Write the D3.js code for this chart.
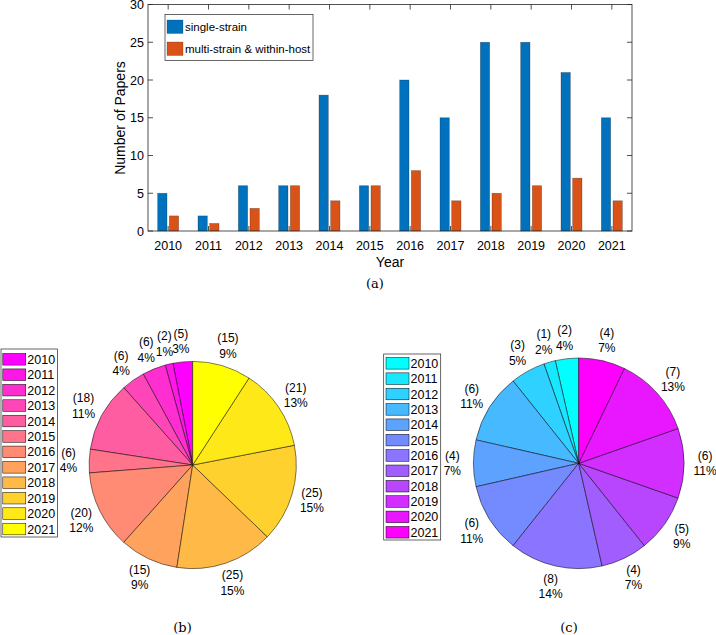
<!DOCTYPE html>
<html><head><meta charset="utf-8">
<script src="https://cdn.jsdelivr.net/npm/d3@7"></script>
<style>body{margin:0;background:#fff}svg{display:block}text{font-family:"Liberation Sans",Arial,sans-serif;fill:#000}</style>
</head><body>
<svg id="c" width="716" height="635"></svg>
<script>
const years = ["2010","2011","2012","2013","2014","2015","2016","2017","2018","2019","2020","2021"];
const singleStrain = [5,2,6,6,18,6,20,15,25,25,21,15];
const multiStrain = [2,1,3,6,4,6,8,4,5,6,7,4];
const seriesNames = ["single-strain","multi-strain & within-host"];
const seriesColors = ["#0072BD","#D95319"];
const yTicks = [0,5,10,15,20,25,30];

const svg = d3.select("#c");

// ---- Bar chart (a)
const L=148, R=632, T=4.5, B=231;
const x = d3.scaleBand().domain(years).range([L,R]).padding(0);
const x1 = d3.scaleBand().domain([0,1]).range([-10.5,10.5]).paddingInner(0.2);
const y = d3.scaleLinear().domain([0,30]).range([B,T]);
const g = svg.append("g");
const series = [singleStrain, multiStrain];
series.forEach((vals,si)=>{
  g.selectAll(null).data(vals).enter().append("rect")
    .attr("x",(d,i)=>x(years[i])+x.bandwidth()/2+x1(si))
    .attr("width",x1.bandwidth())
    .attr("y",d=>y(d)).attr("height",d=>B-y(d))
    .attr("fill",seriesColors[si]).attr("stroke","#222").attr("stroke-opacity",0.45).attr("stroke-width",0.6);
});
// frame
g.append("rect").attr("x",L).attr("y",T).attr("width",R-L).attr("height",B-T)
  .attr("fill","none").attr("stroke","#262626").attr("stroke-width",0.8);
// ticks
const tickLen=5;
years.forEach(yr=>{
  const cx=x(yr)+x.bandwidth()/2;
  g.append("line").attr("x1",cx).attr("x2",cx).attr("y1",B).attr("y2",B-tickLen).attr("stroke","#262626").attr("stroke-width",0.8);
  g.append("line").attr("x1",cx).attr("x2",cx).attr("y1",T).attr("y2",T+tickLen).attr("stroke","#262626").attr("stroke-width",0.8);
  g.append("text").attr("x",cx).attr("y",B+19).attr("text-anchor","middle").style("font-size","12.5px").text(yr);
});
yTicks.forEach(t=>{
  const cy=y(t);
  g.append("line").attr("x1",L).attr("x2",L+tickLen).attr("y1",cy).attr("y2",cy).attr("stroke","#262626").attr("stroke-width",0.8);
  g.append("line").attr("x1",R).attr("x2",R-tickLen).attr("y1",cy).attr("y2",cy).attr("stroke","#262626").attr("stroke-width",0.8);
  g.append("text").attr("x",L-4).attr("y",cy+4.5).attr("text-anchor","end").style("font-size","12.5px").text(t);
});
g.append("text").attr("x",(L+R)/2).attr("y",267).attr("text-anchor","middle").style("font-size","14px").text("Year");
g.append("text").attr("transform","translate(125,118) rotate(-90)").attr("text-anchor","middle").style("font-size","14px").text("Number of Papers");
svg.append("text").attr("x",375).attr("y",288).attr("text-anchor","middle").style("font-family","'DejaVu Serif','Liberation Serif',serif").style("font-size","13px").text("(a)");
// legend
g.append("rect").attr("x",165).attr("y",14.5).attr("width",148).attr("height",46).attr("fill","#fff").attr("stroke","#262626").attr("stroke-width",0.7);
seriesNames.forEach((n,i)=>{
  const yy = 20 + i*22;
  g.append("rect").attr("x",167).attr("y",yy).attr("width",16).attr("height",13.5).attr("fill",seriesColors[i]).attr("stroke","#222").attr("stroke-opacity",0.4).attr("stroke-width",0.6);
  g.append("text").attr("x",185).attr("y",yy+11).style("font-size","11.5px").text(n);
});

// ---- Pies
function springColor(i,n){const t=i/(n-1);return d3.rgb(255,Math.round(255*t),Math.round(255*(1-t))).toString();}
function coolColor(i,n){const t=i/(n-1);return d3.rgb(Math.round(255*t),Math.round(255*(1-t)),255).toString();}

function drawPie(vals, colorFn, cx, cy, r, lg, caption){
  const n=vals.length;
  const total=d3.sum(vals);
  const pie=d3.pie().sort(null).startAngle(0).endAngle(-2*Math.PI);
  const arcs=pie(vals);
  const arc=d3.arc().innerRadius(0).outerRadius(r);
  const pg=svg.append("g").attr("transform",`translate(${cx},${cy})`);
  pg.selectAll(null).data(arcs).enter().append("path")
    .attr("d",arc).attr("fill",(d,i)=>colorFn(i,n)).attr("stroke","#000").attr("stroke-width",0.5).attr("stroke-linejoin","round");
  arcs.forEach((a,i)=>{
    const mid=(a.startAngle+a.endAngle)/2;
    const lx=Math.sin(mid)*1.2*r, ly=-Math.cos(mid)*1.2*r;
    const pct=Math.round(vals[i]/total*100);
    const t=pg.append("text").attr("text-anchor","middle").style("font-size","12px");
    t.append("tspan").attr("x",lx).attr("y",ly-3.5).text(`(${vals[i]})`);
    t.append("tspan").attr("x",lx).attr("y",ly+12).text(`${pct}%`);
  });
  // legend
  const lgG=svg.append("g");
  lgG.append("rect").attr("x",lg.x).attr("y",lg.y).attr("width",lg.w).attr("height",lg.h).attr("fill","#fff").attr("stroke","#262626").attr("stroke-width",0.7);
  years.forEach((yr,i)=>{
    const yc=lg.y0+i*lg.dy;
    lgG.append("rect").attr("x",lg.sx).attr("y",yc-5.8).attr("width",23).attr("height",11.6).attr("fill",colorFn(i,n)).attr("stroke","#000").attr("stroke-width",0.5);
    lgG.append("text").attr("x",lg.sx+24.5).attr("y",yc+4.5).style("font-size","12.5px").text(yr);
  });
  svg.append("text").attr("x",caption[0]).attr("y",caption[1]).attr("text-anchor","middle").style("font-family","'DejaVu Serif','Liberation Serif',serif").style("font-size","13px").text(caption[2]);
}
drawPie(singleStrain, springColor, 192.7, 465, 103.6, {x:1,y:349,w:56.5,h:188,y0:359.3,dy:15.43,sx:2.8}, [182.5,632,"(b)"]);
drawPie(multiStrain, coolColor, 578.7, 463.3, 105.3, {x:383.7,y:354,w:57,h:186,y0:363.3,dy:15.36,sx:386}, [569,632,"(c)"]);
</script>
</body></html>
